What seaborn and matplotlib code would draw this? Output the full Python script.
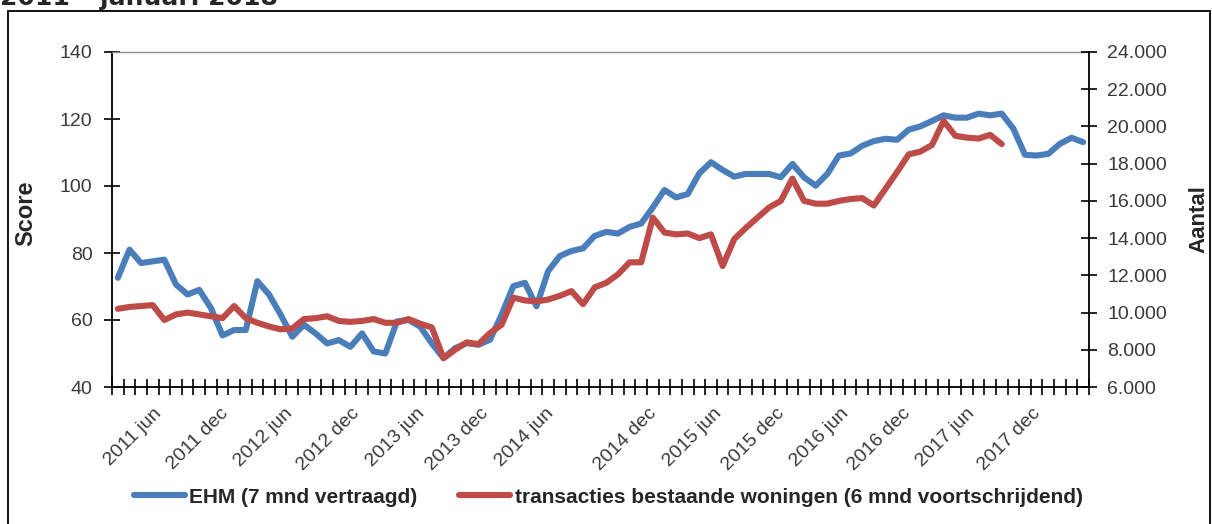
import numpy as np
import pandas as pd
import matplotlib
matplotlib.use('Agg')
import matplotlib.pyplot as plt
import matplotlib.ticker as mticker
from matplotlib.lines import Line2D
from matplotlib.patches import Rectangle
import seaborn as sns

# EHM score (7 months lagged), one value per month
ehm = [72.6, 81, 77, 77.5, 78, 70.6, 67.6, 69, 63.6, 55.4,
       57, 57, 71.6, 67.6, 61.6, 55, 58.6, 56, 53, 54,
       52, 56, 50.6, 50, 59.6, 60, 58, 53, 48.6, 51.6,
       53.1, 52.6, 54.1, 61.6, 70.1, 71.1, 64.1, 74.6, 79.1, 80.6,
       81.4, 85.1, 86.3, 85.8, 87.8, 88.8, 93.6, 98.8, 96.6, 97.6,
       103.8, 107.1, 104.8, 102.8, 103.6, 103.6, 103.6, 102.6, 106.6, 102.6,
       100.1, 103.6, 109.1, 109.7, 112, 113.4, 114.1, 113.8, 116.8, 117.8,
       119.4, 121.1, 120.4, 120.4, 121.6, 121.1, 121.6, 117.1, 109.3, 109.1,
       109.6, 112.6, 114.4, 113.1]

# transactions of existing homes (6 month moving average)
transacties = [10200, 10300, 10350, 10400, 9600, 9900, 10000, 9900, 9800, 9700,
               10350, 9700, 9450, 9250, 9100, 9150, 9650, 9700, 9800, 9550,
               9500, 9550, 9650, 9450, 9450, 9650, 9400, 9200, 7550, 8000,
               8400, 8300, 8900, 9350, 10800, 10650, 10600, 10700, 10900, 11150,
               10450, 11350, 11600, 12050, 12700, 12700, 15100, 14300, 14200, 14250,
               14000, 14200, 12500, 13950, 14550, 15100, 15650, 16000, 17200, 16000,
               15850, 15850, 16000, 16100, 16150, 15750, 16650, 17550, 18500, 18650,
               19000, 20300, 19500, 19400, 19350, 19550, 19050]

tick_labels = ['2011 jun', '2011 dec', '2012 jun', '2012 dec', '2013 jun', '2013 dec',
               '2014 jun', '2014 dec', '2015 jun', '2015 dec', '2016 jun', '2016 dec',
               '2017 jun', '2017 dec']
label_pos = [3.0, 8.8, 14.3, 20.0, 25.6, 31.1, 36.7, 45.6, 51.2, 56.6, 62.1, 67.4, 72.9, 78.6]

sns.set_style('white')
plt.rcParams['font.family'] = ['Liberation Sans', 'DejaVu Sans']

blue = '#4A7EBB'
red = '#BE4B48'
txt = '#3a3a3a'

fig = plt.figure(figsize=(12.12, 5.24), dpi=100)
ax = fig.add_axes([112 / 1212, 137 / 524, 977 / 1212, 335 / 524])
ax2 = ax.twinx()

df_ehm = pd.DataFrame({'maand': np.arange(len(ehm)), 'score': ehm})
df_tr = pd.DataFrame({'maand': np.arange(len(transacties)), 'aantal': transacties})

sns.lineplot(data=df_ehm, x='maand', y='score', ax=ax, color=blue, linewidth=4.4)
sns.lineplot(data=df_tr, x='maand', y='aantal', ax=ax2, color=red, linewidth=4.4)
for line in ax.lines + ax2.lines:
    line.set_solid_capstyle('round')
    line.set_solid_joinstyle('round')

ax.set_xlim(-0.5, 83.5)
ax.set_ylim(40, 140)
ax2.set_ylim(6000, 24000)

# y axes
ax.set_yticks(range(40, 141, 20))
ax2.set_yticks(range(6000, 24001, 2000))
ax2.yaxis.set_major_formatter(mticker.FuncFormatter(lambda v, p: f'{int(v):,}'.replace(',', '.')))
ax.tick_params(axis='y', left=True, direction='inout', length=12, width=1.2, pad=8,
               labelsize=14, labelcolor=txt, color='black')
ax2.tick_params(axis='y', right=True, direction='inout', length=12, width=1.2, pad=7,
                labelsize=14, labelcolor=txt, color='black')

# x axis: tick marks between months, labels every half year
ax.set_xticks(np.arange(-0.5, 84, 1), minor=True)
ax.set_xticks(label_pos)
ax.set_xticklabels(tick_labels, rotation=45, ha='right', va='top', rotation_mode='anchor')
ax.tick_params(axis='x', which='major', bottom=True, length=0, pad=13,
               labelsize=14, labelcolor=txt)
ax.tick_params(axis='x', which='minor', bottom=True, direction='inout', length=11,
               width=1.2, color='black')

ax.set_xlabel('')
ax2.set_xlabel('')
ax.set_ylabel('Score', fontsize=17, fontweight='bold')
ax.yaxis.set_label_coords(-0.076, 0.52)
ax2.set_ylabel('Aantal', fontsize=16, fontweight='bold')
ax2.yaxis.set_label_coords(1.102, 0.5)

for s in ['left', 'bottom']:
    ax.spines[s].set_color('black')
    ax.spines[s].set_linewidth(1.3)
ax.spines['top'].set_color('#8c8c8c')
ax.spines['top'].set_linewidth(1.0)
ax.spines['right'].set_visible(False)
for s in ['left', 'bottom', 'top']:
    ax2.spines[s].set_visible(False)
ax2.spines['right'].set_color('black')
ax2.spines['right'].set_linewidth(1.3)

handles = [Line2D([], [], color=blue, lw=4.4), Line2D([], [], color=red, lw=4.4)]
leg = fig.legend(handles, ['EHM (7 mnd vertraagd)',
                           'transacties bestaande woningen (6 mnd voortschrijdend)'],
                 loc='center', bbox_to_anchor=(0.502, 0.0515), ncol=2, frameon=False,
                 prop={'weight': 'bold', 'size': 15}, handlelength=2.45,
                 handletextpad=0.2, columnspacing=2.0)
for t in leg.get_texts():
    t.set_color('#262626')

# outer frame and cut-off heading of the screenshot
fig.add_artist(Rectangle((8 / 1212, -0.05), 1202 / 1212, 1.05 - 11 / 524,
                         transform=fig.transFigure, fill=False, lw=1.3, ec='black'))
fig.text(0.0, 1 - 5 / 524, '2011 \u2013 januari 2018', fontsize=18, fontweight='bold',
         family='DejaVu Sans', va='baseline', ha='left')

fig.savefig('out.png', dpi=100)
